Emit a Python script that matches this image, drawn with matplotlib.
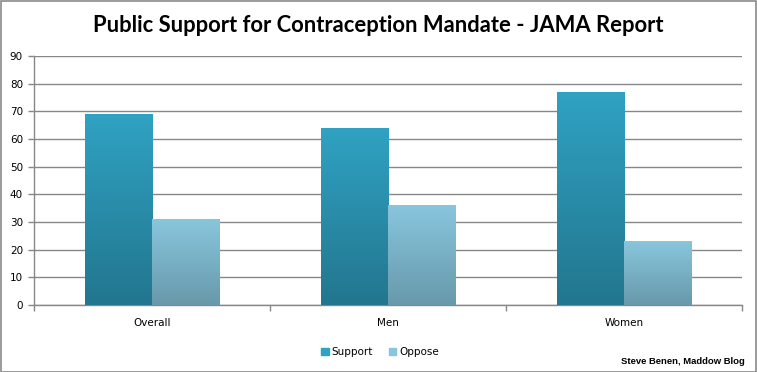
import numpy as np
import matplotlib
matplotlib.use("Agg")
import matplotlib.pyplot as plt
from matplotlib.colors import LinearSegmentedColormap
from matplotlib.patches import Rectangle

categories = ["Overall", "Men", "Women"]
support = [69, 64, 77]
oppose = [31, 36, 23]
series_names = ["Support", "Oppose"]
yticks = list(range(0, 100, 10))
title = "Public Support for Contraception Mandate - JAMA Report"
credit = "Steve Benen, Maddow Blog"

# gradient colours (top, bottom)
sup_top, sup_bot = "#30a2c3", "#22768e"
opp_top, opp_bot = "#88c6dd", "#6899ab"

fig = plt.figure(figsize=(7.57, 3.72), dpi=100)
ax = fig.add_axes([34/757, 67/372, 708/757, 249/372])

x = np.arange(len(categories))
w = 0.284
bars1 = ax.bar(x - w/2, support, w, color=sup_top, label=series_names[0], zorder=3)
bars2 = ax.bar(x + w/2, oppose, w, color=opp_top, label=series_names[1], zorder=3)

def gradient(bars, top, bot):
    cmap = LinearSegmentedColormap.from_list("g", [bot, top])
    grad = np.linspace(0, 1, 256).reshape(-1, 1)
    for b in bars:
        x0, y0 = b.get_x(), b.get_y()
        bw, bh = b.get_width(), b.get_height()
        im = ax.imshow(grad, cmap=cmap, origin="lower", aspect="auto",
                       extent=[x0, x0 + bw, y0, y0 + bh], zorder=4)
        im.set_clip_path(b)

gradient(bars1, sup_top, sup_bot)
gradient(bars2, opp_top, opp_bot)

ax.set_xlim(-0.5, len(categories) - 0.5)
ax.set_ylim(0, 90)
ax.set_yticks(yticks)
ax.yaxis.grid(True, color="#878787", linewidth=1.0, zorder=0)
ax.set_axisbelow(True)

ax.set_xticks(x)
ax.set_xticklabels(categories, fontsize=7.5, family="DejaVu Sans")
ax.tick_params(axis="x", length=0, pad=9)
ax.set_xticks(np.arange(-0.5, len(categories), 1), minor=True)
ax.tick_params(axis="x", which="minor", length=4, color="#878787", width=1)
ax.tick_params(axis="y", length=4, color="#878787", width=1, labelsize=7.5, pad=4)
for lbl in ax.get_yticklabels():
    lbl.set_family("DejaVu Sans")

for s in ["top", "right"]:
    ax.spines[s].set_visible(False)
for s in ["left", "bottom"]:
    ax.spines[s].set_color("#878787")
    ax.spines[s].set_linewidth(1.0)

fig.text(0.5, 1 - 26/372, title, ha="center", va="center",
         fontsize=15.8, fontweight="bold", family="Lato")

h1 = Rectangle((0, 0), 1, 1, color=sup_top)
h2 = Rectangle((0, 0), 1, 1, color=opp_top)
fig.legend([h1, h2], series_names, loc="center", bbox_to_anchor=(380/757, 1 - 352/372),
           ncol=2, frameon=False, fontsize=7.5, handlelength=0.7, handleheight=0.7,
           handletextpad=0.3, columnspacing=1.5)

fig.text(745/757, 1 - 361/372, credit, ha="right", va="center",
         fontsize=6.8, fontweight="bold", family="Liberation Sans")

fig.patches.append(Rectangle((0.5/757, 0.5/372), 1 - 1.5/757, 1 - 1.5/372,
                             transform=fig.transFigure, fill=False,
                             edgecolor="#8a8a8a", linewidth=1.2))

fig.savefig("out.png", dpi=100)
